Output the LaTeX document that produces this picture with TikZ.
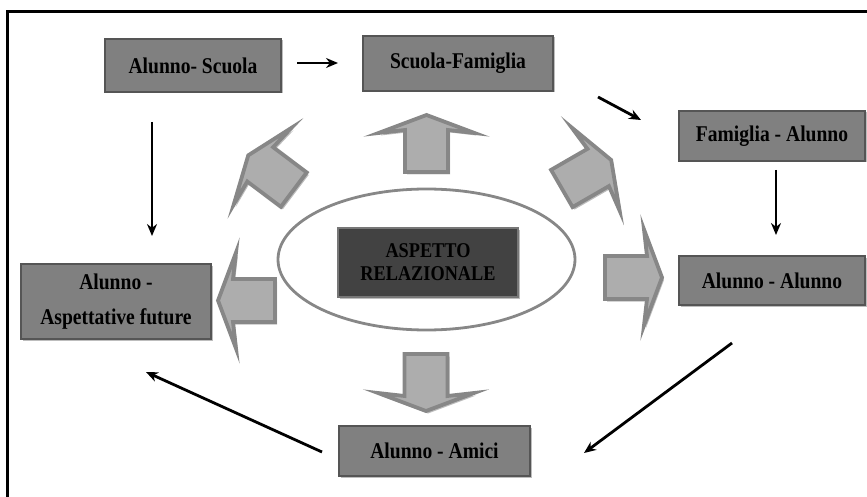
\documentclass[tikz,border=0pt]{standalone}
\usepackage{fontspec}
\setmainfont{Liberation Serif}[FakeStretch=0.87]
\usetikzlibrary{arrows.meta,shapes.geometric,shadows}

\definecolor{boxgray}{HTML}{808080}
\definecolor{boxedge}{HTML}{555555}
\definecolor{coregray}{HTML}{424242}
\definecolor{arrowfill}{HTML}{ADADAD}
\definecolor{arrowedge}{HTML}{878787}
\definecolor{shadowgray}{HTML}{BDBDBD}

% outline of a wide-headed block arrow pointing along +x, origin at the shaft middle
\newcommand\arrowpath{(-21,-21.5) -- (21,-21.5) -- (18,-48) -- (36,0) -- (18,48) -- (21,21.5) -- (-21,21.5) -- cycle}
% block arrow with a soft shadow: #1,#2 position, #3 direction
\newcommand\relarrow[3]{%
  \begin{scope}[shift={(#1+2,#2+2.5)},rotate=#3]
    \fill[shadowgray] \arrowpath;
  \end{scope}
  \begin{scope}[shift={(#1,#2)},rotate=#3]
    \filldraw[fill=arrowfill,draw=arrowedge,line width=3.8pt,line join=miter] \arrowpath;
  \end{scope}}

\begin{document}
\begin{tikzpicture}[x=1pt,y=-1pt,
  labelbox/.style={draw=boxedge, line width=1.8pt, fill=boxgray, inner sep=0pt,
    font=\bfseries\fontsize{22.5}{25}\selectfont, align=center,
    drop shadow={shadow xshift=1.5pt, shadow yshift=-1.5pt, fill=shadowgray, opacity=1}},
  corebox/.style={labelbox, draw=boxedge!80, fill=coregray,
    font=\bfseries\fontsize{21}{23}\selectfont},
  link/.style={line width=2.8pt, -{Stealth[length=12pt,width=10pt]}}]

\useasboundingbox (0,0) rectangle (867,497);

% frame
\draw[line width=3pt] (7.5,497) -- (7.5,12) -- (867,12);

% outer ring of relations
\node[labelbox, minimum width=176pt, minimum height=53pt] (as) at (193,65.5) {Alunno- Scuola};
\node[labelbox, minimum width=190pt, minimum height=55pt] (sf) at (458,63.5) {Scuola-Famiglia};
\node[labelbox, minimum width=186pt, minimum height=50pt] (fa) at (772,136) {Famiglia - Alunno};
\node[labelbox, minimum width=186pt, minimum height=49pt] (aa) at (772,280.5) {Alunno - Alunno};
\node[labelbox, minimum width=190pt, minimum height=75pt] (af) at (116,301.5) {Alunno -\\[10pt]Aspettative future};
\node[labelbox, minimum width=191pt, minimum height=50pt] (am) at (434.5,451) {Alunno - Amici};

% centre
\node[ellipse, draw=arrowedge, line width=2.8pt, minimum width=297pt, minimum height=141pt] (ring) at (426.5,259.5) {};
\node[corebox, minimum width=180pt, minimum height=69pt] (core) at (428,262.5) {ASPETTO\\RELAZIONALE};

% block arrows radiating from the centre
\relarrow{426.5}{151}{90}
\relarrow{426}{375}{-90}
\relarrow{254}{300.5}{180}
\relarrow{626}{277.5}{0}
\relarrow{277}{177}{143}
\relarrow{580}{178}{30}

% connector ends
\coordinate (as-out) at (297,63);
\coordinate (sf-in) at (338,63);
\coordinate (sf-out) at (598,97);
\coordinate (fa-in) at (641,120);
\coordinate (fa-out) at (776,170);
\coordinate (aa-in) at (776,235);
\coordinate (aa-out) at (732,343);
\coordinate (am-in) at (584,453);
\coordinate (am-out) at (322,452);
\coordinate (af-in) at (146,372);
\coordinate (as-down) at (152,122);
\coordinate (af-top) at (152,236);

% cycle of relations
\draw[link] (as-out) -- (sf-in);
\draw[link] (sf-out) -- (fa-in);
\draw[link] (fa-out) -- (aa-in);
\draw[link] (aa-out) -- (am-in);
\draw[link] (am-out) -- (af-in);
\draw[link] (as-down) -- (af-top);
\end{tikzpicture}
\end{document}
